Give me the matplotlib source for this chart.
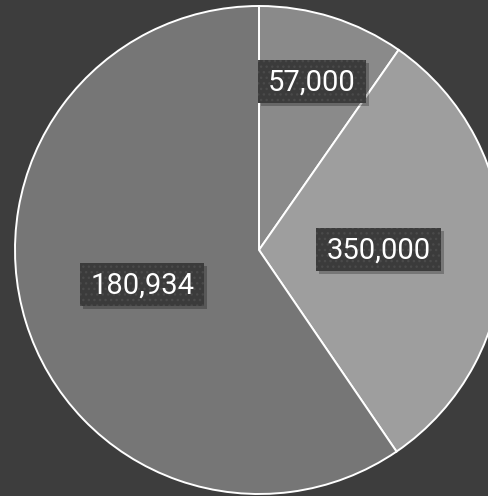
import matplotlib
matplotlib.use("Agg")
import matplotlib.pyplot as plt
from matplotlib.patches import Rectangle
from matplotlib.transforms import IdentityTransform
import numpy as np

# data (slice sizes as drawn, and the label shown on each slice)
slice_values = [57000, 180934, 350000]
slice_labels = ["57,000", "350,000", "180,934"]
slice_colors = ["#8a8a8a", "#9e9e9e", "#767676"]
label_radius = [0.72, 0.49, 0.50]

W, H = 489, 496
fig = plt.figure(figsize=(W / 100, H / 100), dpi=100, facecolor="#3d3d3d")
ax = fig.add_axes([0, 0, 1, 1])
ax.set_facecolor("#3d3d3d")
ax.axis("off")

cx, cy, R = 259, 250, 244

wedges, _ = ax.pie(slice_values, colors=slice_colors, startangle=90,
                   counterclock=False, radius=1.0,
                   wedgeprops=dict(edgecolor="white", linewidth=1.4))
ax.set_xlim(-cx / R, (W - cx) / R)
ax.set_ylim(-(H - cy) / R, cy / R)
ax.set_aspect("auto")

texts = []
for w, lab, r in zip(wedges, slice_labels, label_radius):
    ang = np.deg2rad((w.theta1 + w.theta2) / 2)
    x, y = r * np.cos(ang), r * np.sin(ang)
    t = ax.text(x, y, lab, ha="center", va="center", color="white",
                fontsize=21, family=["Roboto", "DejaVu Sans"], zorder=10)
    texts.append(t)

fig.canvas.draw()
renderer = fig.canvas.get_renderer()
for t in texts:
    bb = t.get_window_extent(renderer)
    padx = 10
    h_ = 43
    w_ = bb.width + 2 * padx
    xc, yc = (bb.x0 + bb.x1) / 2, (bb.y0 + bb.y1) / 2 + 1
    x0, y0 = xc - w_ / 2, yc - h_ / 2
    shadow = Rectangle((x0 + 3, y0 - 3), w_, h_, transform=IdentityTransform(),
                       facecolor="black", alpha=0.25, linewidth=0, zorder=8)
    box = Rectangle((x0, y0), w_, h_, transform=IdentityTransform(),
                    facecolor="#3b3b3b", edgecolor="#4a4a4a", hatch="...",
                    linewidth=0, zorder=9)
    fig.add_artist(shadow)
    fig.add_artist(box)
    t.remove()
    t.set_zorder(11)
    fig.add_artist(t)
    t.set_transform(ax.transData)

fig.savefig("out.png", dpi=100, facecolor="#3d3d3d")
